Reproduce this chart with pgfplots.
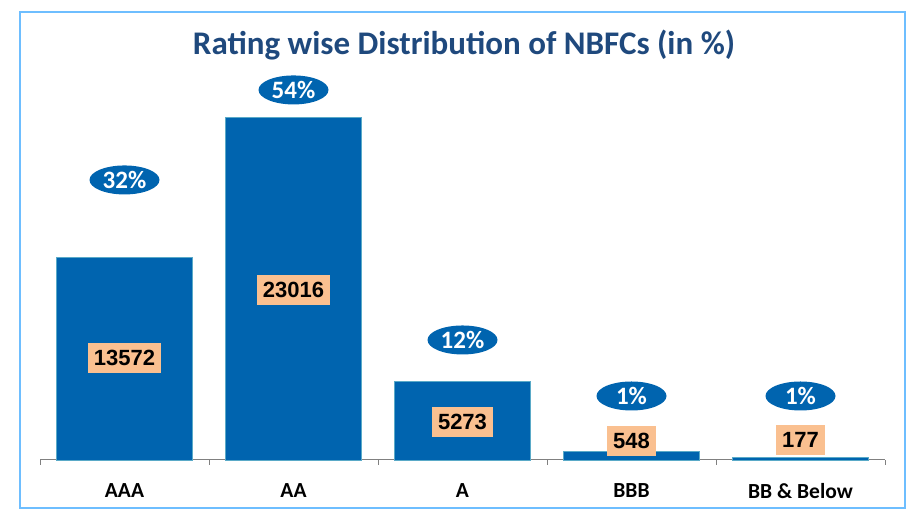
\documentclass[border=0pt]{standalone}
\usepackage{pgfplots}
\pgfplotsset{compat=1.18}
\usepackage{fontspec}
\setmainfont{Carlito}
\newfontfamily\arialfont{Liberation Sans}
\usetikzlibrary{shapes.geometric}
\definecolor{barblue}{RGB}{0,100,175}
\definecolor{baredge}{RGB}{90,170,200}
\definecolor{titleblue}{RGB}{31,73,125}
\definecolor{peach}{RGB}{250,192,144}
\definecolor{framecol}{RGB}{110,190,255}
\begin{document}
\begin{tikzpicture}[x=1pt,y=1pt]
\path (0,0) rectangle (910,513);
\draw[framecol, line width=1.3pt] (20,5) rectangle (905,501);
\node[text=titleblue, font=\fontsize{33}{38}\selectfont\bfseries] at (464,468) {Rating wise Distribution of NBFCs (in \%)};
\begin{axis}[
  at={(40pt,53pt)}, anchor=south west,
  scale only axis, width=845pt, height=380pt,
  xmin=-0.5, xmax=4.5, ymin=0, ymax=25500,
  axis x line*=bottom, axis y line=none,
  clip=false,
  xtick={0,1,2,3,4},
  xticklabels={AAA,AA,A,BBB,BB \& Below},
  major tick length=0pt,
  minor xtick={-0.5,0.5,1.5,2.5,3.5,4.5},
  minor tick length=5pt,
  tick align=outside,
  x axis line style={draw=gray, line width=1pt},
  minor tick style={draw=gray, line width=1pt},
  xticklabel style={anchor=north, yshift=-23pt, inner sep=0pt, font=\fontsize{21.5}{25}\selectfont\bfseries},
]
\addplot[ybar, bar width=136pt, fill=barblue, draw=baredge, line width=0.8pt]
  coordinates {(0,13572) (1,23016) (2,5273) (3,548) (4,177)};
\addplot[draw=none, mark=none, nodes near coords, point meta=explicit symbolic,
  nodes near coords style={anchor=center, fill=peach, text=black,
    font=\arialfont\bfseries\fontsize{22}{26}\selectfont, inner xsep=6pt, inner ysep=7pt}]
  coordinates {(0,6846)[13572] (1,11409)[23016] (2,2550)[5273] (3,1275)[548] (4,1342)[177]};
\addplot[draw=none, mark=none, nodes near coords, point meta=explicit symbolic,
  nodes near coords style={anchor=center, ellipse, fill=barblue, text=white,
    minimum width=70pt, minimum height=29pt, inner sep=0pt,
    font=\fontsize{25}{29}\selectfont\bfseries}]
  coordinates {(0,18792)[32\%] (1,24832)[54\%] (2,8054)[12\%] (3,4295)[1\%] (4,4295)[1\%]};
\end{axis}
\end{tikzpicture}
\end{document}
